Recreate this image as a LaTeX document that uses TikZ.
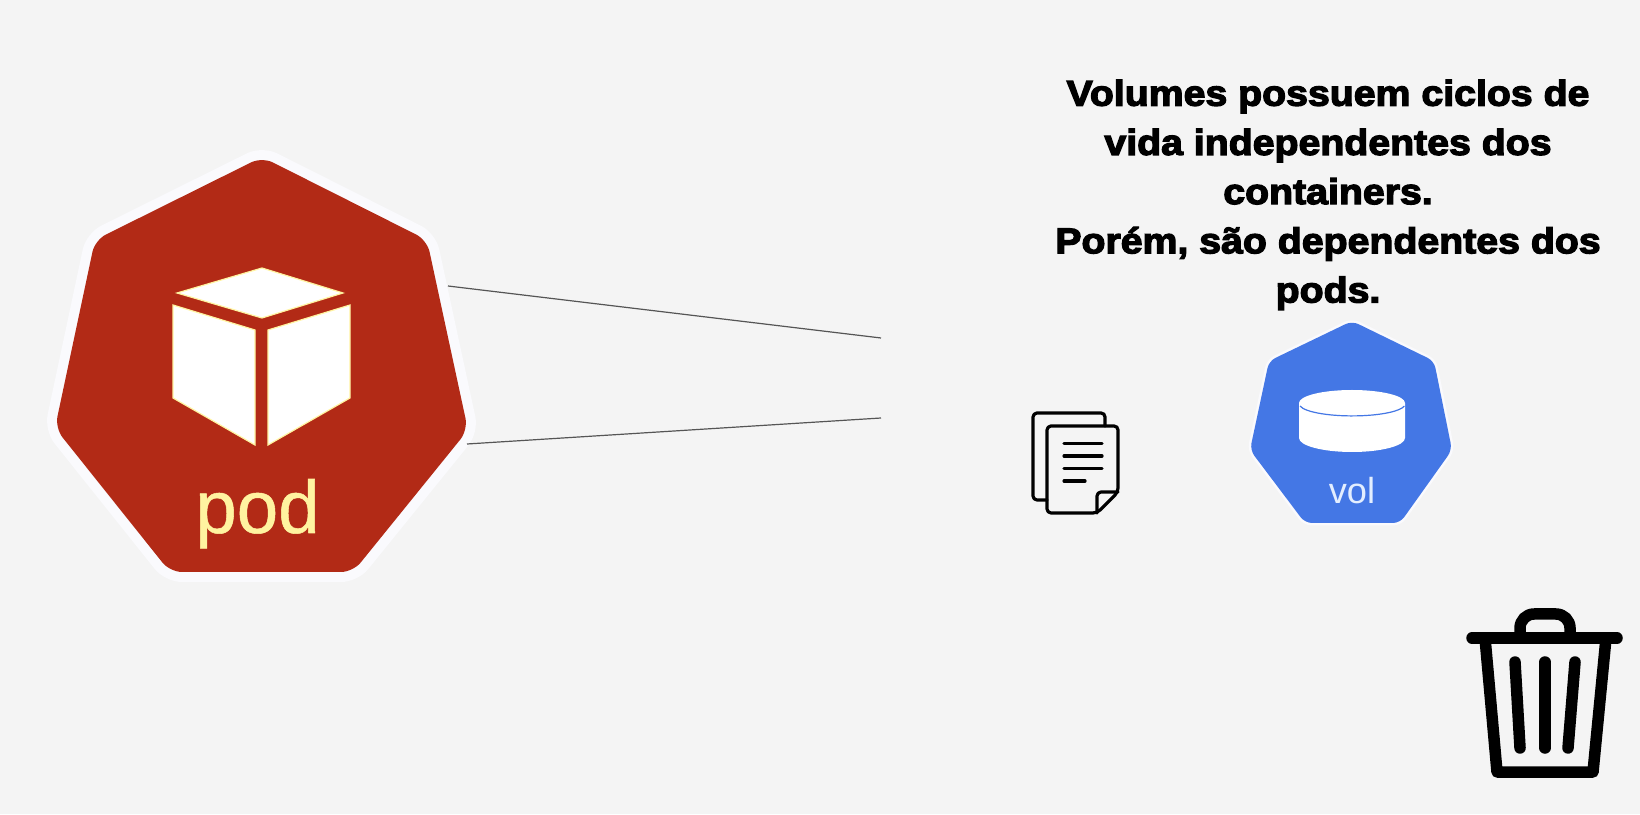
\documentclass[tikz,border=0pt]{standalone}
\usepackage{xcolor}
\usepackage{fontspec}
\setmainfont{Liberation Sans}
\newfontfamily\heavyfont[FakeBold=3.6,FakeStretch=1.095]{Liberation Sans Bold}
\newfontfamily\labelfont[FakeBold=.7]{Liberation Sans}
\definecolor{PodRed}{HTML}{B22A16}
\definecolor{PodLabel}{HTML}{FFF3A0}
\definecolor{PodRim}{HTML}{FAFAFD}
\definecolor{VolBlue}{HTML}{4477E5}
\definecolor{VolLabel}{HTML}{E3EEFF}
\definecolor{PageGrey}{HTML}{F4F4F4}
\definecolor{WireGrey}{HTML}{555555}
\tikzset{
  podhept/.style={fill=PodRed,rounded corners=.12cm,preaction={draw=PodRim,line width=.2cm,rounded corners=.14cm}},
  volhept/.style={fill=VolBlue,rounded corners=.07cm,preaction={draw=PodRim,line width=.05cm,rounded corners=.07cm}},
  cubeface/.style={fill=white,draw=PodLabel,line width=.012cm,line join=miter},
  wire/.style={WireGrey,line width=.012cm},
  docline/.style={black,line width=.032cm,line cap=round,line join=round,rounded corners=.04cm},
  binline/.style={black,line width=.115cm,line cap=round,line join=round}
}
\begin{document}
\begin{tikzpicture}[x=1cm,y=1cm]
\path[use as bounding box] (0,0) rectangle (16.40,8.14);
\fill[PageGrey] (0,0) rectangle (16.40,8.14);
\path[podhept] (2.62,6.57) -- (4.27,5.74) -- (4.68,3.84) -- (3.53,2.42) -- (1.70,2.42) -- (0.55,3.86) -- (0.95,5.74) -- cycle;
\path[cubeface] (2.62,5.46) -- (3.43,5.21) -- (2.62,4.96) -- (1.77,5.21) -- cycle;
\path[cubeface] (1.73,5.09) -- (2.55,4.84) -- (2.55,3.69) -- (1.73,4.16) -- cycle;
\path[cubeface] (2.68,4.84) -- (3.50,5.09) -- (3.50,4.16) -- (2.68,3.69) -- cycle;
\node[anchor=base,inner sep=0pt,text=PodLabel,font=\labelfont\fontsize{21.2}{24}\selectfont] (podlabel) at (2.575,2.81) {pod};
\coordinate (podupper) at (4.48,5.28);
\coordinate (podlower) at (4.67,3.70);
\coordinate (wireupper) at (8.81,4.76);
\coordinate (wirelower) at (8.81,3.96);
\draw[wire] (podupper) -- (wireupper);
\draw[wire] (podlower) -- (wirelower);
\node[anchor=north,inner sep=0pt,align=center,font=\heavyfont\fontsize{10.2}{14}\selectfont] (voltext) at (13.28,7.35) {Volumes possuem ciclos de\\vida independentes dos\\containers.\\Porém, são dependentes dos\\pods.};
\path[volhept] (13.52,4.93) -- (14.34,4.53) -- (14.52,3.64) -- (14.00,2.91) -- (13.05,2.91) -- (12.50,3.64) -- (12.69,4.53) -- cycle;
\fill[white] (12.99,4.11) arc [start angle=180,end angle=0,x radius=.53,y radius=.13] -- (14.05,3.76) arc [start angle=360,end angle=180,x radius=.53,y radius=.14] -- cycle;
\draw[VolBlue,line width=.012cm] (13.00,4.08) arc [start angle=190,end angle=350,x radius=.53,y radius=.12];
\node[anchor=base,inner sep=0pt,text=VolLabel,font=\fontsize{10.3}{12}\selectfont] (vollabel) at (13.52,3.10) {vol};
\draw[docline] (10.47,3.14) -- (10.33,3.14) -- (10.33,4.01) -- (11.05,4.01) -- (11.05,3.88);
\draw[docline] (10.47,3.88) -- (11.18,3.88) -- (11.18,3.22) -- (10.97,3.01) -- (10.47,3.01) -- cycle;
\draw[docline] (10.97,3.01) -- (10.97,3.22) -- (11.18,3.22);
\draw[docline] (10.64,3.705) -- (11.02,3.705);
\draw[docline] (10.64,3.58) -- (11.02,3.58);
\draw[docline] (10.64,3.455) -- (11.02,3.455);
\draw[docline] (10.64,3.33) -- (10.85,3.33);
\draw[binline] (14.72,1.76) -- (16.17,1.76);
\draw[binline,rounded corners=.14cm] (15.20,1.76) -- (15.20,2.00) -- (15.70,2.00) -- (15.70,1.76);
\draw[binline] (14.85,1.76) -- (14.97,.42) -- (15.93,.42) -- (16.06,1.76);
\draw[binline] (15.15,1.52) -- (15.20,.66);
\draw[binline] (15.45,1.52) -- (15.45,.66);
\draw[binline] (15.75,1.52) -- (15.68,.66);
\end{tikzpicture}
\end{document}
